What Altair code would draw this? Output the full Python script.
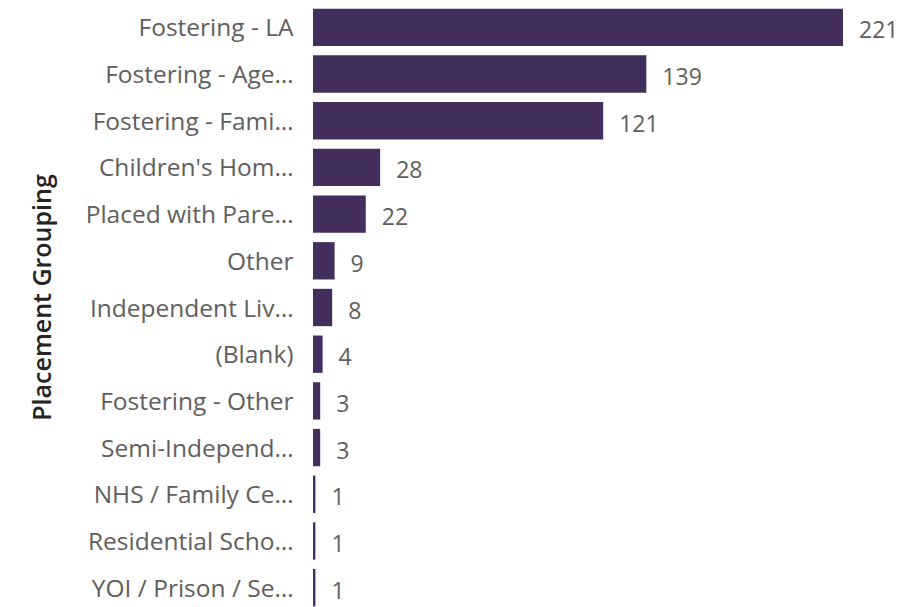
import altair as alt
import pandas as pd

categories = ["Fostering - LA", "Fostering - Age…", "Fostering - Fami…", "Children's Hom…",
              "Placed with Pare…", "Other", "Independent Liv…", "(Blank)",
              "Fostering - Other", "Semi-Independ…", "NHS / Family Ce…",
              "Residential Scho…", "YOI / Prison / Se…"]
values = [221, 139, 121, 28, 22, 9, 8, 4, 3, 3, 1, 1, 1]

df = pd.DataFrame({"cat": categories, "val": values})

FONT = "Open Sans"
BAR = "#432F5E"

y = alt.Y("cat:N", sort=categories,
          scale=alt.Scale(paddingInner=0.2, paddingOuter=0.1),
          axis=alt.Axis(title="Placement Grouping", labelFont=FONT, labelFontSize=24.5,
                        labelColor="#605E5C", labelPadding=20, labelLimit=300, labelOffset=2,
                        ticks=False, domain=False, grid=False,
                        titleFont=FONT, titleFontSize=25, titleFontWeight=600,
                        titleColor="#252423", titleAngle=270, titleX=-271, titleY=293,
                        titleAlign="center", titleBaseline="middle"))
x = alt.X("val:Q", scale=alt.Scale(domain=[0, 221], nice=False, zero=True), axis=None)

bars = alt.Chart(df).mark_bar(color=BAR).encode(x=x, y=y)
labels = alt.Chart(df).mark_text(align="left", baseline="middle", dx=16, dy=4,
                                 font=FONT, fontSize=23, color="#605E5C").encode(
    x=x, y=y, text=alt.Text("val:Q"))

chart = (bars + labels).properties(
    width=530, height=607,
    autosize=alt.AutoSizeParams(type="none"),
    padding={"left": 313, "top": 4, "right": 74, "bottom": 0},
).configure(background="white", view={"stroke": None})

chart.save("out.html", embed_options={"renderer": "svg", "actions": False})
